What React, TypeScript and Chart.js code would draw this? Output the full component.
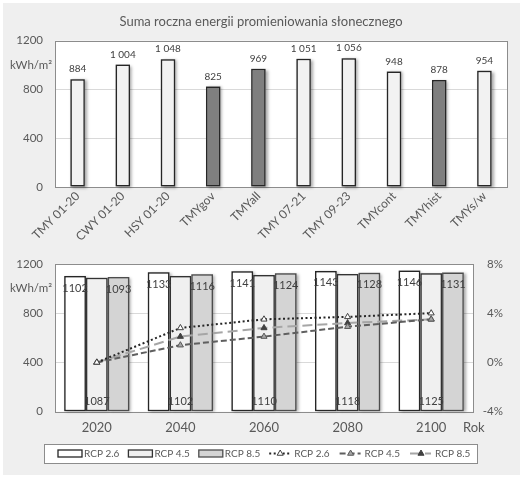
import React, { useEffect, useRef } from 'react';
import { Chart, registerables } from 'chart.js';

Chart.register(...registerables);

const FONT = 'Lato, "Open Sans", sans-serif';

// ---- top chart data ----
const topTitle = 'Suma roczna energii promieniowania słonecznego';
const topCategories = ['TMY 01-20', 'CWY 01-20', 'HSY 01-20', 'TMYgov', 'TMYall', 'TMY 07-21', 'TMY 09-23', 'TMYcont', 'TMYhist', 'TMYs/w'];
const topValues = [884, 1004, 1048, 825, 969, 1051, 1056, 948, 878, 954];
const topHighlighted = [false, false, false, true, true, false, false, false, true, false];
const energyTicks = [0, 400, 800, 1200];
const unitLabel = 'kWh/m²';

// ---- bottom chart data ----
const years = ['2020', '2040', '2060', '2080', '2100'];
const seriesNames = ['RCP 2.6', 'RCP 4.5', 'RCP 8.5'];
const rcp26 = [1102, 1133, 1141, 1143, 1146];
const rcp45 = [1087, 1102, 1110, 1118, 1125];
const rcp85 = [1093, 1116, 1124, 1128, 1131];
const pct26 = [0, 2.8, 3.5, 3.7, 4.0];
const pct45 = [0, 1.4, 2.1, 2.9, 3.5];
const pct85 = [0, 2.1, 2.8, 3.2, 3.5];
const pctTicks = [-4, 0, 4, 8];
const xAxisLabel = 'Rok';

const TEXT = '#595959';
const GRID = '#d9d9d9';
const FRAME = '#8c8c8c';

const fmtSpace = (v: number) => String(v).replace(/\B(?=(\d{3})+(?!\d))/g, ' ');

const barStyles = [
  { bg: '#ffffff', border: '#262626' },
  { bg: '#f0f0f0', border: '#333333' },
  { bg: '#d4d4d4', border: '#4d4d4d' },
];
const lineStyles = [
  { color: '#262626', dash: [2, 2.5], pointBg: '#ffffff', pointBorder: '#404040' },
  { color: '#5f5f5f', dash: [6, 3], pointBg: '#a6a6a6', pointBorder: '#595959' },
  { color: '#a6a6a6', dash: [10, 5], pointBg: '#404040', pointBorder: '#404040' },
];

const plotFrame = {
  id: 'plotFrame',
  beforeDraw(chart: any) {
    const { ctx, chartArea: a } = chart;
    ctx.save();
    ctx.fillStyle = '#ffffff';
    ctx.fillRect(a.left, a.top, a.right - a.left, a.bottom - a.top);
    ctx.restore();
  },
  beforeDatasetsDraw(chart: any) {
    const { ctx, chartArea: a } = chart;
    ctx.save();
    ctx.strokeStyle = FRAME;
    ctx.lineWidth = 1;
    ctx.strokeRect(Math.round(a.left) + 0.5, Math.round(a.top) + 0.5, Math.round(a.right - a.left), Math.round(a.bottom - a.top));
    // bar shadows
    ctx.shadowColor = 'rgba(0,0,0,0.35)';
    ctx.shadowBlur = 3;
    ctx.shadowOffsetX = 2;
    ctx.shadowOffsetY = 1;
    ctx.fillStyle = '#999999';
    chart.getSortedVisibleDatasetMetas().forEach((meta: any) => {
      if (meta.type !== 'bar') return;
      meta.data.forEach((el: any) => {
        const { x, y, base, width } = el.getProps(['x', 'y', 'base', 'width'], true);
        ctx.fillRect(x - width / 2, Math.min(y, base), width, Math.abs(base - y));
      });
    });
    ctx.restore();
  },
};

const unitPlugin = {
  id: 'unitPlugin',
  afterDraw(chart: any) {
    const { ctx, chartArea: a } = chart;
    const y = chart.scales.y.getPixelForValue(1000);
    ctx.save();
    ctx.fillStyle = TEXT;
    ctx.font = `11.5px ${FONT}`;
    ctx.textAlign = 'right';
    ctx.textBaseline = 'middle';
    ctx.fillText(unitLabel, a.left - 3, y);
    ctx.restore();
  },
};

const topExtras = {
  id: 'topExtras',
  afterDraw(chart: any) {
    const { ctx } = chart;
    ctx.save();
    ctx.fillStyle = TEXT;
    ctx.font = `13px ${FONT}`;
    ctx.textAlign = 'center';
    ctx.textBaseline = 'middle';
    ctx.fillText(topTitle, chart.width / 2, 22);
    // value labels
    ctx.fillStyle = '#404040';
    ctx.font = `10px ${FONT}`;
    const meta = chart.getDatasetMeta(0);
    meta.data.forEach((el: any, i: number) => {
      ctx.fillText(fmtSpace(topValues[i]), el.x, el.y - 10);
    });
    ctx.restore();
  },
};

const bottomExtras = {
  id: 'bottomExtras',
  afterDraw(chart: any) {
    const { ctx, chartArea: a } = chart;
    ctx.save();
    ctx.fillStyle = '#404040';
    ctx.font = `11px ${FONT}`;
    ctx.textAlign = 'center';
    ctx.textBaseline = 'middle';
    [rcp26, rcp45, rcp85].forEach((vals, di) => {
      const meta = chart.getDatasetMeta(di);
      meta.data.forEach((el: any, i: number) => {
        const y = di === 1 ? el.base - 10 : el.y + 12;
        ctx.fillText(String(vals[i]), el.x, y);
      });
    });
    // axis title
    ctx.fillStyle = TEXT;
    ctx.font = `13px ${FONT}`;
    ctx.textAlign = 'left';
    ctx.fillText(xAxisLabel, a.right - 10, a.bottom + 16);

    // legend
    const bx = 44, by = 199, bw = 433, bh = 19;
    ctx.fillStyle = '#ffffff';
    ctx.fillRect(bx, by, bw, bh);
    ctx.strokeStyle = FRAME;
    ctx.lineWidth = 1;
    ctx.strokeRect(bx + 0.5, by + 0.5, bw, bh);
    const cy = by + bh / 2;
    ctx.font = `10px ${FONT}`;
    ctx.textAlign = 'left';
    const step = 70.4;
    let x = 58;
    seriesNames.forEach((name, i) => {
      const s = barStyles[i];
      ctx.fillStyle = s.bg;
      ctx.fillRect(x, cy - 3.5, 24, 7);
      ctx.strokeStyle = s.border;
      ctx.lineWidth = 1.3;
      ctx.strokeRect(x, cy - 3.5, 24, 7);
      ctx.fillStyle = TEXT;
      ctx.fillText(name, x + 26, cy);
      x += step;
    });
    seriesNames.forEach((name, i) => {
      const s = lineStyles[i];
      ctx.save();
      ctx.strokeStyle = s.color;
      ctx.lineWidth = 2;
      ctx.setLineDash(s.dash);
      ctx.beginPath();
      ctx.moveTo(x, cy);
      ctx.lineTo(x + 21, cy);
      ctx.stroke();
      ctx.restore();
      const tx = x + 11, r = 3.5;
      ctx.beginPath();
      ctx.moveTo(tx, cy - r);
      ctx.lineTo(tx + r * 0.866, cy + r * 0.5);
      ctx.lineTo(tx - r * 0.866, cy + r * 0.5);
      ctx.closePath();
      ctx.fillStyle = s.pointBg;
      ctx.fill();
      ctx.strokeStyle = s.pointBorder;
      ctx.lineWidth = 1;
      ctx.stroke();
      ctx.fillStyle = TEXT;
      ctx.fillText(name, x + 25, cy);
      x += step;
    });
    ctx.restore();
  },
};

const gridColor = (ctx: any) => (ctx.tick.value === 0 || ctx.tick.value === 1200 ? 'rgba(0,0,0,0)' : GRID);
const plainTick = (v: any) => String(v);

export default function App() {
  const topRef = useRef<HTMLCanvasElement>(null);
  const botRef = useRef<HTMLCanvasElement>(null);

  useEffect(() => {
    const top = new Chart(topRef.current as HTMLCanvasElement, {
      type: 'bar',
      data: {
        labels: topCategories,
        datasets: [
          {
            data: topValues,
            backgroundColor: topHighlighted.map((h) => (h ? '#7f7f7f' : '#f2f2f2')),
            borderColor: '#262626',
            borderWidth: 1.5,
            borderSkipped: false,
            barPercentage: 0.32,
            categoryPercentage: 1,
          },
        ],
      },
      options: {
        responsive: false,
        animation: false,
        devicePixelRatio: 1,
        layout: { padding: { left: 0, right: 15, top: 40.7, bottom: 0 } },
        plugins: { legend: { display: false }, tooltip: { enabled: false }, title: { display: false } },
        scales: {
          x: {
            grid: { display: false, drawTicks: false },
            border: { display: false },
            ticks: { color: TEXT, font: { family: FONT, size: 12 }, maxRotation: 45, minRotation: 45, padding: 2, autoSkip: false },
            afterFit: (s: any) => { s.height = 58; },
          },
          y: {
            min: 0,
            max: 1200,
            afterBuildTicks: (s: any) => { s.ticks = energyTicks.map((v) => ({ value: v })); },
            grid: { color: gridColor, drawTicks: false, lineWidth: 1 },
            border: { display: false },
            ticks: { color: TEXT, font: { family: FONT, size: 11.5 }, padding: 12, callback: plainTick },
            afterFit: (s: any) => { s.width = 55; },
          },
        },
      } as any,
      plugins: [plotFrame, unitPlugin, topExtras],
    });

    const barData = [rcp26, rcp45, rcp85];
    const pctData = [pct26, pct45, pct85];
    const bottom = new Chart(botRef.current as HTMLCanvasElement, {
      type: 'bar',
      data: {
        labels: years,
        datasets: [
          ...barData.map((d, i) => ({
            type: 'bar' as const,
            label: seriesNames[i],
            data: d,
            yAxisID: 'y',
            order: 1,
            backgroundColor: barStyles[i].bg,
            borderColor: barStyles[i].border,
            borderWidth: 1.5,
            borderSkipped: false as any,
            barPercentage: 1,
            categoryPercentage: 0.78,
          })),
          ...pctData.map((d, i) => ({
            type: 'line' as const,
            label: seriesNames[i],
            data: d,
            yAxisID: 'y2',
            order: 0,
            borderColor: lineStyles[i].color,
            borderWidth: 2,
            borderDash: lineStyles[i].dash,
            pointStyle: 'triangle' as const,
            pointRadius: 3.5,
            pointBackgroundColor: lineStyles[i].pointBg,
            pointBorderColor: lineStyles[i].pointBorder,
            pointBorderWidth: 1,
            fill: false,
            tension: 0,
          })),
        ],
      } as any,
      options: {
        responsive: false,
        animation: false,
        devicePixelRatio: 1,
        layout: { padding: { left: 0, right: 19, top: 13, bottom: 35.3 } },
        plugins: { legend: { display: false }, tooltip: { enabled: false } },
        scales: {
          x: {
            grid: { display: false, drawTicks: false },
            border: { display: false },
            ticks: { color: TEXT, font: { family: FONT, size: 13 }, padding: 8 },
            afterFit: (s: any) => { s.height = 30; },
          },
          y: {
            position: 'left',
            min: 0,
            max: 1200,
            afterBuildTicks: (s: any) => { s.ticks = energyTicks.map((v) => ({ value: v })); },
            grid: { color: gridColor, drawTicks: false, lineWidth: 1 },
            border: { display: false },
            ticks: { color: TEXT, font: { family: FONT, size: 11.5 }, padding: 12, callback: plainTick },
            afterFit: (s: any) => { s.width = 55; },
          },
          y2: {
            position: 'right',
            min: -4,
            max: 8,
            afterBuildTicks: (s: any) => { s.ticks = pctTicks.map((v) => ({ value: v })); },
            grid: { display: false, drawTicks: false },
            border: { display: false },
            ticks: { color: TEXT, font: { family: FONT, size: 11.5 }, padding: 0, crossAlign: 'far', callback: (v: any) => `${v}%` },
            afterFit: (s: any) => { s.width = 30; },
          },
        },
      } as any,
      plugins: [plotFrame, unitPlugin, bottomExtras],
    });

    return () => {
      top.destroy();
      bottom.destroy();
    };
  }, []);

  return (
    <div style={{ position: 'fixed', left: 0, top: 0, width: 522, height: 477, background: '#ffffff' }}>
      <div style={{ position: 'absolute', left: 3, top: 3, width: 517, height: 472, background: '#efefef' }} />
      <canvas ref={topRef} width={522} height={245} style={{ position: 'absolute', left: 0, top: 0, width: 522, height: 245 }} />
      <canvas ref={botRef} width={522} height={232} style={{ position: 'absolute', left: 0, top: 245, width: 522, height: 232 }} />
    </div>
  );
}
